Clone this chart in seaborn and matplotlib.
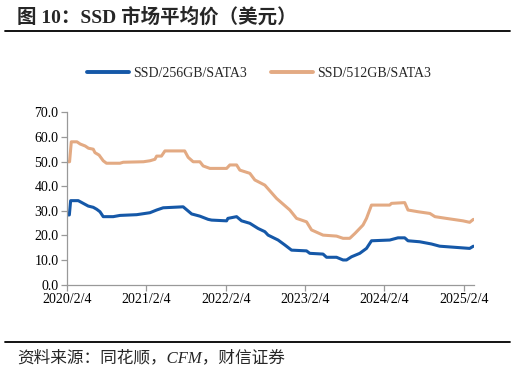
import matplotlib
matplotlib.use("Agg")
import matplotlib.pyplot as plt
from matplotlib.lines import Line2D
import pandas as pd
import seaborn as sns

# ---- data ----
dates_256 = ["2020-02-04", "2020-02-15", "2020-02-21", "2020-03-27", "2020-04-19",
             "2020-05-12", "2020-06-04", "2020-06-20", "2020-07-05", "2020-07-20",
             "2020-09-04", "2020-10-05", "2020-12-21", "2021-02-20", "2021-03-23",
             "2021-04-22", "2021-07-23", "2021-08-31", "2021-10-08", "2021-11-15",
             "2021-12-01", "2022-02-08", "2022-02-14", "2022-03-26", "2022-04-18",
             "2022-05-26", "2022-07-03", "2022-08-03", "2022-08-18", "2022-10-03",
             "2022-11-03", "2022-12-04", "2023-02-11", "2023-02-26", "2023-04-28",
             "2023-05-14", "2023-06-29", "2023-07-29", "2023-08-14", "2023-09-06",
             "2023-10-14", "2023-11-14", "2023-12-07", "2024-02-29", "2024-04-07",
             "2024-05-08", "2024-05-23", "2024-07-16", "2024-09-08", "2024-10-16",
             "2025-01-01", "2025-03-03", "2025-03-20"]
values_256 = [28.3, 28.3, 34.1, 34.1, 33.0,
              31.9, 31.4, 30.6, 29.6, 27.6,
              27.6, 28.1, 28.4, 29.2, 30.3,
              31.2, 31.6, 28.7, 27.8, 26.5,
              26.2, 25.9, 26.9, 27.6, 25.9,
              24.9, 22.8, 21.5, 20.1, 18.1,
              16.1, 14.0, 13.7, 12.7, 12.4,
              11.1, 11.1, 10.0, 10.0, 11.3,
              12.7, 14.7, 17.8, 18.1, 19.0,
              19.0, 17.8, 17.4, 16.5, 15.6,
              15.1, 14.7, 15.6]

dates_512 = ["2020-02-04", "2020-02-16", "2020-02-24", "2020-03-21", "2020-04-05",
             "2020-04-28", "2020-05-13", "2020-06-04", "2020-06-12", "2020-07-01",
             "2020-07-20", "2020-08-04", "2020-10-05", "2020-10-20", "2021-01-21",
             "2021-02-20", "2021-03-15", "2021-03-23", "2021-04-14", "2021-04-30",
             "2021-07-30", "2021-08-15", "2021-09-07", "2021-10-08", "2021-10-23",
             "2021-11-23", "2022-02-08", "2022-02-23", "2022-03-26", "2022-04-10",
             "2022-05-26", "2022-06-18", "2022-08-03", "2022-09-26", "2022-11-26",
             "2022-12-27", "2023-02-11", "2023-03-06", "2023-04-28", "2023-06-29",
             "2023-07-29", "2023-08-29", "2023-09-22", "2023-10-29", "2023-11-14",
             "2023-12-07", "2024-02-29", "2024-03-08", "2024-05-08", "2024-05-23",
             "2024-07-08", "2024-09-01", "2024-09-24", "2024-11-15", "2025-01-31",
             "2025-03-03", "2025-03-20"]
values_512 = [49.9, 49.9, 58.0, 58.0, 57.1,
              56.3, 55.4, 55.0, 53.6, 52.6,
              50.3, 49.3, 49.3, 49.7, 49.9,
              50.3, 50.9, 52.2, 52.2, 54.3,
              54.3, 51.7, 49.9, 49.9, 48.2,
              47.2, 47.2, 48.6, 48.6, 46.5,
              45.2, 42.5, 40.4, 35.0, 30.3,
              26.9, 25.5, 22.2, 20.1, 19.7,
              18.8, 18.8, 20.8, 24.2, 26.9,
              32.3, 32.3, 33.0, 33.3, 30.3,
              29.6, 28.9, 27.6, 26.9, 25.9,
              25.3, 26.5]

series_names = ["SSD/256GB/SATA3", "SSD/512GB/SATA3"]
series_colors = ["#1558A8", "#E3AA83"]
y_ticks = [0, 10, 20, 30, 40, 50, 60, 70]
x_tick_dates = ["2020-02-04", "2021-02-04", "2022-02-04", "2023-02-04", "2024-02-04", "2025-02-04"]
x_tick_labels = ["2020/2/4", "2021/2/4", "2022/2/4", "2023/2/4", "2024/2/4", "2025/2/4"]
title_text = "图 10：SSD 市场平均价（美元）"
source_text = "资料来源：同花顺，CFM，财信证券"

df = pd.concat([
    pd.DataFrame({"date": pd.to_datetime(dates_256), "value": values_256, "series": series_names[0]}),
    pd.DataFrame({"date": pd.to_datetime(dates_512), "value": values_512, "series": series_names[1]}),
], ignore_index=True)

sns.set_style("ticks")
serif = ["Liberation Serif", "Noto Sans CJK SC", "DejaVu Sans"]
plt.rcParams["font.family"] = serif

fig = plt.figure(figsize=(5.15, 3.73), dpi=100)
ax = fig.add_axes([0.130, 0.237, 0.790, 0.462])

sns.lineplot(data=df, x="date", y="value", hue="series", hue_order=series_names,
             palette=series_colors, linewidth=2.2, ax=ax, legend=False, estimator=None)

ax.set_ylim(0, 70)
ax.set_yticks(y_ticks)
ax.set_yticklabels([f"{v:.1f}" for v in y_ticks])
ax.set_xlim(pd.Timestamp("2020-02-04"), pd.Timestamp("2025-03-22"))
ax.set_xticks(pd.to_datetime(x_tick_dates))
ax.set_xticklabels(x_tick_labels)
ax.set_xlabel("")
ax.set_ylabel("")
for s in ["top", "right"]:
    ax.spines[s].set_visible(False)
for s in ["left", "bottom"]:
    ax.spines[s].set_color("#999999")
    ax.spines[s].set_linewidth(0.9)
ax.tick_params(axis="both", colors="#999999", length=4, width=0.9, labelsize=10,
               labelcolor="black", direction="out", pad=2)

handles = [Line2D([0], [0], color=c, lw=2.8) for c in series_colors]
fig.legend(handles, series_names, loc="center", bbox_to_anchor=(0.503, 0.802), ncol=2,
           frameon=False, handlelength=3.0, handletextpad=0.3, columnspacing=1.8,
           prop={"family": serif, "size": 10})

# title and rules
fig.text(0.033, 1 - 17 / 373, title_text, fontsize=14, fontweight="bold",
         va="center", ha="left", family=serif)
fig.add_artist(Line2D([5 / 515, 510 / 515], [1 - 31 / 373, 1 - 31 / 373],
                      color="black", lw=1.3, transform=fig.transFigure))
fig.add_artist(Line2D([5 / 515, 510 / 515], [1 - 342 / 373, 1 - 342 / 373],
                      color="black", lw=1.3, transform=fig.transFigure))
fig.text(0.033, 1 - 358 / 373, source_text, fontsize=12, style="italic",
         va="center", ha="left", family=serif)

fig.savefig("out.png", dpi=100)
